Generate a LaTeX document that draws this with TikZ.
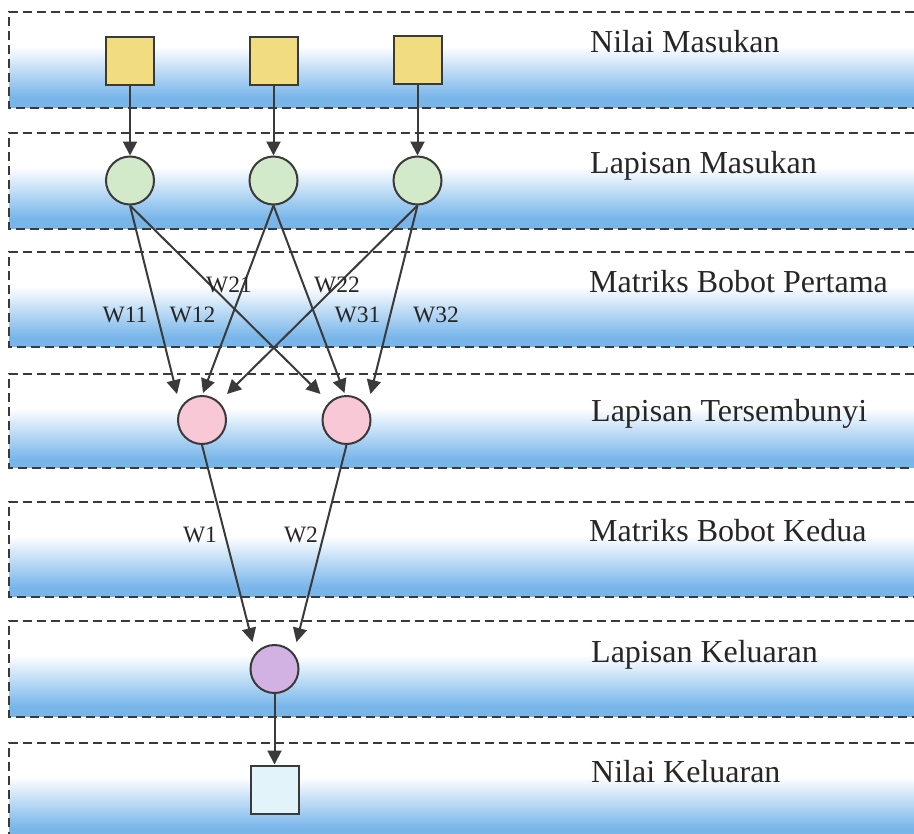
\documentclass[tikz,border=0pt]{standalone}
\usepackage{fontspec}
\setmainfont{Liberation Serif}
\usetikzlibrary{arrows.meta,calc}

\definecolor{bandblue}{RGB}{120,182,234}
\definecolor{edgegray}{RGB}{58,58,58}
\definecolor{inyellow}{RGB}{242,220,128}
\definecolor{ingreen}{RGB}{210,233,202}
\definecolor{hidpink}{RGB}{248,200,214}
\definecolor{outpurple}{RGB}{210,178,226}
\definecolor{outcyan}{RGB}{226,243,250}

\tikzset{
  dashline/.style={draw=edgegray, line width=1.9bp, dash pattern=on 9bp off 5bp},
  unit/.style={draw=edgegray, line width=2bp, inner sep=0pt, minimum size=48bp},
  sqbox/.style={unit, rectangle},
  neuron/.style={unit, circle},
  arr/.style={draw=edgegray, line width=2bp, -{Triangle[length=14bp,width=14bp]}},
  layername/.style={anchor=base west, inner sep=0pt, text=black!85,
    font=\fontsize{32bp}{38bp}\selectfont},
  wlabel/.style={anchor=base, inner sep=0pt, text=black!85,
    font=\fontsize{23.5bp}{27bp}\selectfont}
}

\begin{document}
\begin{tikzpicture}[x=1bp, y=-1bp]
\useasboundingbox (0,0) rectangle (914,834);

% layer bands: white top fading to blue, dashed outline open to the right
\foreach \t/\b in {12/108,133/229,252/347,374/468,502/597,621/717,743/840}{
  \fill[bandblue] (9,\t+84) rectangle (914,\b);
  \shade[top color=white, bottom color=bandblue] (9,\t+34) rectangle (914,\t+85);
  \draw[dashline] (914,\t) -- (9,\t) -- (9,\b) -- (914,\b);
}

% layer names
\node[layername] (n1) at (590,52)  {Nilai Masukan};
\node[layername] (n2) at (590,173) {Lapisan Masukan};
\node[layername] (n3) at (589,292) {Matriks Bobot Pertama};
\node[layername] (n4) at (591,421) {Lapisan Tersembunyi};
\node[layername] (n5) at (589,541) {Matriks Bobot Kedua};
\node[layername] (n6) at (591,662) {Lapisan Keluaran};
\node[layername] (n7) at (591,782) {Nilai Keluaran};

% input values
\node[sqbox, fill=inyellow] (s1) at (130,60.5) {};
\node[sqbox, fill=inyellow] (s2) at (273.5,60.5) {};
\node[sqbox, fill=inyellow] (s3) at (417.5,60) {};

% input layer
\node[neuron, fill=ingreen] (g1) at (130,180.5) {};
\node[neuron, fill=ingreen] (g2) at (273.5,180.5) {};
\node[neuron, fill=ingreen] (g3) at (417.5,180.5) {};

% hidden layer
\node[neuron, fill=hidpink] (p1) at (202,420) {};
\node[neuron, fill=hidpink] (p2) at (346.5,420) {};

% output layer and output value
\node[neuron, fill=outpurple] (pu) at (274.5,669) {};
\node[sqbox, fill=outcyan] (o) at (274.5,789.5) {};

% connections
\draw[arr] (s1) -- (g1);
\draw[arr] (s2) -- (g2);
\draw[arr] (s3) -- (g3);

\draw[arr] (g1.south) -- ($(p1.north)+(-25,-1)$);
\draw[arr] (g1.south) -- ($(p2.north)+(-26,-1)$);
\draw[arr] (g2.south) -- ($(p1.north)+(1,-2)$);
\draw[arr] (g2.south) -- ($(p2.north)+(-2,-2)$);
\draw[arr] (g3.south) -- ($(p1.north)+(25,-1)$);
\draw[arr] (g3.south) -- ($(p2.north)+(24,-1)$);

\draw[arr] (p1.south) -- ($(pu.north)+(-22,-2)$);
\draw[arr] (p2.south) -- ($(pu.north)+(22,-2)$);

\draw[arr] (pu) -- (o);

% weight labels
\node[wlabel] (w11) at (125,322) {W11};
\node[wlabel] (w12) at (192.5,322) {W12};
\node[wlabel] (w21) at (229,292) {W21};
\node[wlabel] (w22) at (337,292) {W22};
\node[wlabel] (w31) at (357.5,322) {W31};
\node[wlabel] (w32) at (436,322) {W32};
\node[wlabel] (w1) at (200,542) {W1};
\node[wlabel] (w2) at (301,542) {W2};
\end{tikzpicture}
\end{document}
